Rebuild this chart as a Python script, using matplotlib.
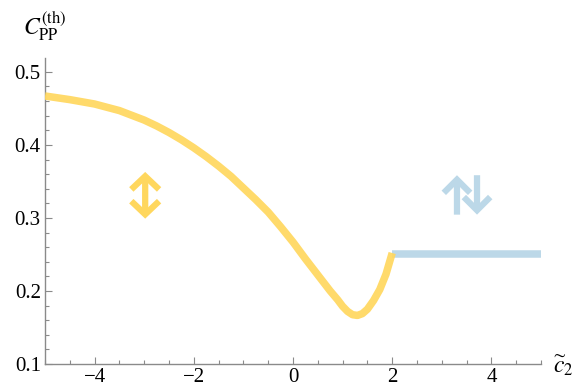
import matplotlib
matplotlib.use("Agg")
import matplotlib.pyplot as plt
from matplotlib.ticker import MultipleLocator

plt.rcParams["font.family"] = ["Liberation Serif", "DejaVu Serif"]
plt.rcParams["mathtext.fontset"] = "stix"

# Theory prediction C_PP^(th) as a function of c2~ (yellow branch, c2~ <= 2)
c2_branch = [-5.0, -4.5, -4.0, -3.5, -3.0, -2.75, -2.5, -2.25, -2.0, -1.75,
             -1.5, -1.25, -1.0, -0.75, -0.5, -0.25, 0.0, 0.25, 0.5, 0.75,
             0.9, 1.0, 1.1, 1.2, 1.3, 1.4, 1.5, 1.625, 1.75, 1.875, 2.0]
cpp_branch = [0.467, 0.462, 0.456, 0.447, 0.434, 0.426, 0.417, 0.407, 0.396,
              0.384, 0.371, 0.357, 0.341, 0.325, 0.308, 0.288, 0.267, 0.244,
              0.222, 0.200, 0.188, 0.179, 0.172, 0.1675, 0.1665, 0.169,
              0.175, 0.187, 0.202, 0.223, 0.252]

# Flat branch for c2~ >= 2
c2_flat = [2.0, 5.0]
cpp_flat = [0.25, 0.25]

yellow = "#ffd75e"
blue = "#bcd8e8"
axis_gray = "#8a8a8a"

fig = plt.figure(figsize=(5.79, 3.90), dpi=100)
ax = fig.add_axes([45 / 579, 1 - 364 / 390, 496 / 579, 306 / 390])

ax.plot(c2_flat, cpp_flat, color=blue, lw=5.4, solid_capstyle="butt", zorder=2)
ax.plot(c2_branch, cpp_branch, color=yellow, lw=5.4, alpha=0.92,
        solid_capstyle="butt", solid_joinstyle="round", zorder=3)

ax.set_xlim(-5, 5)
ax.set_ylim(0.1, 0.519)

# Direction markers
arrow_kw = dict(lw=4.5, mutation_scale=1, joinstyle="miter", capstyle="butt",
                shrinkA=0, shrinkB=0)
ax.annotate("", xy=(-2.98, 0.363), xytext=(-2.98, 0.299),
            arrowprops=dict(arrowstyle="<->,head_length=9.5,head_width=10",
                            color=yellow, **arrow_kw))
ax.annotate("", xy=(3.306, 0.3585), xytext=(3.306, 0.3045),
            arrowprops=dict(arrowstyle="->,head_length=9.5,head_width=9.5",
                            color=blue, **arrow_kw))
ax.annotate("", xy=(3.71, 0.3045), xytext=(3.71, 0.3585),
            arrowprops=dict(arrowstyle="->,head_length=9.5,head_width=9.5",
                            color=blue, **arrow_kw))

for side in ("top", "right"):
    ax.spines[side].set_visible(False)
for side in ("left", "bottom"):
    ax.spines[side].set_color(axis_gray)
    ax.spines[side].set_linewidth(1.0)

ax.xaxis.set_major_locator(MultipleLocator(2))
ax.xaxis.set_minor_locator(MultipleLocator(0.5))
ax.yaxis.set_major_locator(MultipleLocator(0.1))
ax.yaxis.set_minor_locator(MultipleLocator(0.02))
ax.tick_params(which="both", direction="in", color=axis_gray, width=0.8,
               labelsize=15, labelcolor="black")
ax.tick_params(which="major", length=5, pad=3)
ax.tick_params(which="minor", length=3)
ax.set_xticks([-4, -2, 0, 2, 4])
ax.set_yticks([0.1, 0.2, 0.3, 0.4, 0.5])
ax.set_yticklabels(["0.1", "0.2", "0.3", "0.4", "0.5"])

fig.text(45 / 579, 1 - 26 / 390, r"$C_{\mathrm{PP}}^{(\mathrm{th})}$",
         fontsize=17, ha="center", va="center")
fig.text(563 / 579, 1 - 366 / 390, r"$\widetilde{c}_2$",
         fontsize=17, ha="center", va="center")

fig.savefig("out.png", dpi=100)
